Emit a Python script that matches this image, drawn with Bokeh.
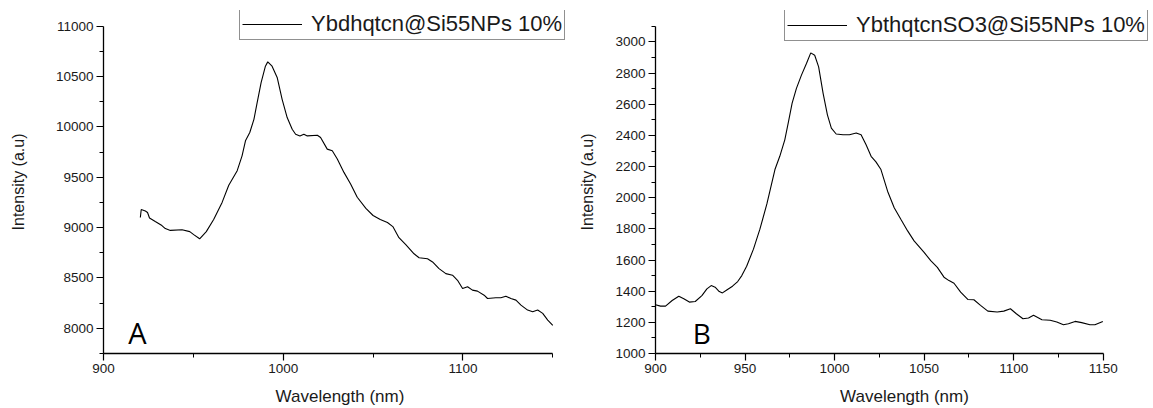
from bokeh.plotting import figure
from bokeh.layouts import row
from bokeh.models import FixedTicker, Legend, LegendItem, Label, Range1d
from bokeh.embed import file_html
from bokeh.resources import INLINE

# ---------------- data ----------------
wl_a = [920.5, 921.0, 923.3, 924.5, 925.6, 928.8, 932.5, 934.4, 937.2, 943.7,
        948.0, 950.2, 953.5, 957.2, 961.3, 966.0, 969.7, 974.4, 977.1, 979.0,
        981.4, 983.7, 985.5, 987.7, 990.1, 991.4, 993.8, 996.7, 999.4, 1002.2,
        1005.0, 1006.9, 1009.3, 1011.5, 1013.4, 1019.0, 1020.8, 1024.5, 1027.3, 1030.1,
        1033.8, 1037.5, 1041.2, 1046.0, 1050.0, 1054.0, 1058.0, 1061.0, 1064.4, 1068.2,
        1072.8, 1075.6, 1080.3, 1083.1, 1086.7, 1090.5, 1094.2, 1097.0, 1099.8, 1102.6,
        1105.3, 1108.1, 1111.8, 1113.7, 1118.3, 1121.1, 1123.9, 1126.7, 1129.5, 1132.3,
        1136.0, 1138.8, 1141.6, 1144.4, 1147.2, 1150.0]
int_a = [9100, 9180, 9165, 9150, 9095, 9060, 9020, 8990, 8972, 8978,
         8960, 8930, 8889, 8960, 9080, 9250, 9420, 9565, 9712, 9861,
         9944, 10075, 10240, 10438, 10602, 10645, 10602, 10487, 10273, 10092,
         9976, 9927, 9910, 9927, 9910, 9917, 9894, 9779, 9762, 9680,
         9548, 9433, 9301, 9190, 9120, 9080, 9050, 9010, 8900, 8830,
         8740, 8700, 8690, 8659, 8593, 8543, 8527, 8477, 8395, 8412,
         8379, 8369, 8329, 8296, 8303, 8303, 8319, 8296, 8280, 8230,
         8181, 8165, 8181, 8148, 8082, 8030]

wl_b = [900.0, 902.8, 905.6, 909.3, 913.0, 915.8, 918.9, 922.2, 925.9, 928.7,
        931.1, 933.3, 935.6, 937.4, 939.8, 943.0, 945.9, 948.2, 950.9, 954.7,
        958.3, 962.2, 966.7, 969.4, 972.2, 974.1, 976.3, 978.7, 981.5, 984.3,
        986.7, 988.9, 991.1, 993.6, 996.0, 998.2, 1000.9, 1004.7, 1008.3, 1012.1,
        1014.8, 1017.6, 1020.4, 1023.1, 1025.9, 1029.6, 1033.3, 1037.0, 1040.8, 1044.4,
        1050.0, 1053.7, 1057.4, 1061.1, 1063.9, 1066.7, 1070.4, 1074.4, 1077.8, 1081.5,
        1085.6, 1090.8, 1094.5, 1098.2, 1101.5, 1105.2, 1108.3, 1111.1, 1115.8, 1120.4,
        1124.1, 1127.8, 1130.6, 1134.3, 1138.0, 1142.6, 1145.4, 1149.8]
int_b = [1313, 1304, 1304, 1340, 1368, 1351, 1330, 1334, 1372, 1415,
         1436, 1426, 1398, 1389, 1408, 1432, 1462, 1500, 1560, 1670,
         1798, 1960, 2181, 2266, 2372, 2479, 2607, 2702, 2787, 2862,
         2930, 2915, 2840, 2670, 2532, 2447, 2409, 2404, 2404, 2415,
         2404, 2340, 2266, 2230, 2181, 2042, 1936, 1862, 1787, 1723,
         1649, 1596, 1553, 1490, 1468, 1451, 1394, 1347, 1345, 1309,
         1272, 1266, 1272, 1287, 1255, 1223, 1228, 1245, 1217, 1213,
         1202, 1185, 1191, 1206, 1198, 1185, 1185, 1206]

label_a = "Ybdhqtcn@Si55NPs 10%"
label_b = "YbthqtcnSO3@Si55NPs 10%"

xticks_a = [900, 1000, 1100]
xminor_a = [950, 1050, 1150]
yticks_a = [8000, 8500, 9000, 9500, 10000, 10500, 11000]
yminor_a = [7750, 8250, 8750, 9250, 9750, 10250, 10750]

xticks_b = [900, 950, 1000, 1050, 1100, 1150]
xminor_b = [925, 975, 1025, 1075, 1125]
yticks_b = [1000, 1200, 1400, 1600, 1800, 2000, 2200, 2400, 2600, 2800, 3000]
yminor_b = [1100, 1300, 1500, 1700, 1900, 2100, 2300, 2500, 2700, 2900, 3100]

FONT = "Liberation Sans"
INK = "#1a1a1a"


def style(p, xt, xm, yt, ym, xb, yb, ylab_standoff):
    p.xaxis.ticker = FixedTicker(ticks=xt, minor_ticks=xm)
    p.yaxis.ticker = FixedTicker(ticks=yt, minor_ticks=ym)
    p.xaxis.bounds = xb
    p.yaxis.bounds = yb
    p.xgrid.visible = False
    p.ygrid.visible = False
    p.outline_line_color = None
    for ax in (p.xaxis[0], p.yaxis[0]):
        ax.axis_line_color = "black"
        ax.axis_line_width = 1.3
        ax.major_tick_line_color = "black"
        ax.minor_tick_line_color = "black"
        ax.major_tick_line_width = 1.2
        ax.minor_tick_line_width = 1.0
        ax.major_tick_out = 7
        ax.major_tick_in = 0
        ax.minor_tick_out = 4
        ax.minor_tick_in = 0
        ax.major_label_text_font = FONT
        ax.major_label_text_font_size = "13.5px"
        ax.major_label_text_color = INK
        ax.major_label_standoff = 3
        ax.axis_label_text_font = FONT
        ax.axis_label_text_font_style = "normal"
        ax.axis_label_text_color = INK
    p.xaxis.axis_label = "Wavelength (nm)"
    p.xaxis.axis_label_text_font_size = "17px"
    p.xaxis.axis_label_standoff = 11
    p.yaxis.axis_label = "Intensity (a.u)"
    p.yaxis.axis_label_text_font_size = "16px"
    p.yaxis.axis_label_standoff = ylab_standoff


def add_legend(p, r, text, loc):
    leg = Legend(items=[LegendItem(label=text, renderers=[r])], location=loc,
                 border_line_color="#222222", border_line_width=1,
                 background_fill_color="white", background_fill_alpha=1,
                 padding=2, spacing=0, margin=0, glyph_width=60, glyph_height=18,
                 label_standoff=9, label_height=18,
                 label_text_font=FONT, label_text_font_size="22px",
                 label_text_line_height=1.0,
                 label_text_color=INK)
    p.add_layout(leg, "center")


# ---------------- panel A ----------------
pa = figure(width=576, height=408, output_backend="svg", toolbar_location=None,
            x_range=Range1d(900, 1163.2), y_range=Range1d(7750, 11155),
            min_border_left=103, min_border_right=0, min_border_top=10, min_border_bottom=53,
            background_fill_color="white", border_fill_color="white")
ra = pa.line(wl_a, int_a, line_color="black", line_width=1.1)
style(pa, xticks_a, xminor_a, yticks_a, yminor_a, (900, 1150), (7750, 11000), 26)
add_legend(pa, ra, label_a, (136, 313))
pa.add_layout(Label(x=913.8, y=7960, text="A", text_font="Open Sans",
                    text_font_size="29px", text_color="black", text_baseline="alphabetic"))

# ---------------- panel B ----------------
pb = figure(width=577, height=408, output_backend="svg", toolbar_location=None,
            x_range=Range1d(900, 1178.1), y_range=Range1d(1000, 3202),
            min_border_left=77, min_border_right=0, min_border_top=10, min_border_bottom=53,
            background_fill_color="white", border_fill_color="white")
rb = pb.line(wl_b, int_b, line_color="black", line_width=1.1)
style(pb, xticks_b, xminor_b, yticks_b, yminor_b, (900, 1150), (1000, 3100), 16)
add_legend(pb, rb, label_b, (129, 312))
pb.add_layout(Label(x=920.8, y=1132, text="B", text_font="Open Sans",
                    text_font_size="28px", text_color="black", text_baseline="alphabetic"))

layout = row(pa, pb)
open("out.html", "w").write(file_html(layout, INLINE))
